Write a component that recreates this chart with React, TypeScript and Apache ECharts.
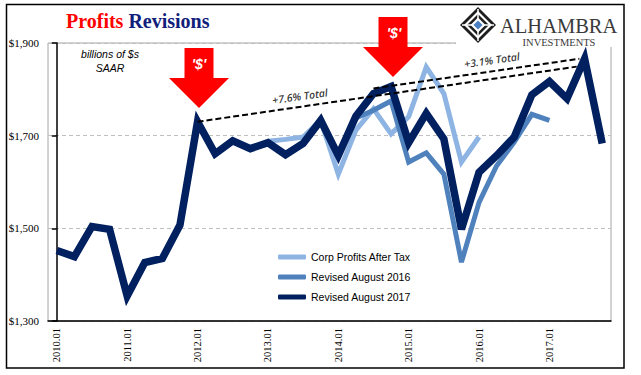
import React, { useEffect, useRef } from 'react';
import * as echarts from 'echarts';

const years = [2010, 2011, 2012, 2013, 2014, 2015, 2016, 2017];
const quarters = ['01', '02', '03', '04'];
const categories = years.flatMap((y) => quarters.map((q) => `${y}.${q}`));

const seriesNames = ['Corp Profits After Tax', 'Revised August 2016', 'Revised August 2017'];

const corpProfitsAfterTax = [
  null, null, null, null, null, null, null, null, null, null, null, null,
  1688, 1692, 1697, 1733, 1617, 1712, 1758, 1704, 1741, 1848, 1791, 1643, 1697,
  null, null, null, null, null, null, null,
];

const revisedAug2016 = [
  null, null, null, null, null, null, null, null, null, null, null, null,
  1685, 1659, 1683, 1733, 1657, 1738, 1755, 1775, 1643, 1663, 1617, 1427, 1556,
  1635, 1686, 1746, 1733, null, null, null,
];

const revisedAug2017 = [
  1452, 1439, 1504, 1498, 1354, 1426, 1435, 1507,
  1730, 1661, 1689, 1672, 1685, 1659, 1683, 1733,
  1657, 1742, 1791, 1806, 1685, 1748, 1693, 1498,
  1621, 1657, 1697, 1788, 1817, 1780, 1866, 1683,
];

const yTicks = [1300, 1500, 1700, 1900];

// trend annotations: [category position, value]
const trend76 = [[8, 1730], [29.55, 1849]];
const trend31 = [[18, 1802], [29.7, 1866]];
const trendLabels = ['+7.6% Total', '+3.1% Total'];
const trendLabelPos = [[13.82, 1785], [24.73, 1863]];

const colors = ['#8db4e2', '#4f81bd', '#002060'];

export default function App() {
  const ref = useRef<HTMLDivElement>(null);
  useEffect(() => {
    if (!ref.current) return;
    const chart = echarts.init(ref.current, undefined, { renderer: 'svg' });
    const arrow = (cx: number, top: number) => [
      [cx - 14.5, top], [cx + 14.5, top], [cx + 14.5, top + 30], [cx + 30, top + 30],
      [cx, top + 60], [cx - 30, top + 30], [cx - 14.5, top + 30],
    ];
    const lx = 478, ly = 25;
    const diamond = (h: number) => [[lx, ly - h], [lx + h, ly], [lx, ly + h], [lx - h, ly]];
    const option: any = {
      animation: false,
      backgroundColor: '#ffffff',
      title: {
        text: '{a|Profits} {b|Revisions}',
        left: 66,
        top: 11,
        padding: 0,
        textStyle: {
          rich: {
            a: { fontFamily: 'Liberation Serif', fontSize: 20, fontWeight: 'bold', color: '#ff0000' },
            b: { fontFamily: 'Liberation Serif', fontSize: 20, color: '#10207a' },
          },
        },
      },
      grid: { left: 48, right: 30, top: 43, bottom: 54, show: true, borderColor: '#a6a6a6', borderWidth: 1 },
      legend: {
        data: seriesNames,
        orient: 'vertical',
        left: 273,
        top: 246,
        itemWidth: 28,
        itemHeight: 5,
        itemGap: 8,
        icon: 'roundRect',
        selectedMode: false,
        textStyle: { fontFamily: 'Liberation Sans', fontSize: 10.5, color: '#000', lineHeight: 12 },
      },
      xAxis: [
        {
          type: 'category',
          data: categories,
          boundaryGap: true,
          axisLine: { lineStyle: { color: '#000', width: 1.5 } },
          axisTick: { interval: 3, length: 5, lineStyle: { color: '#000', width: 1.5 } },
          axisLabel: { interval: 3, rotate: 90, fontFamily: 'Liberation Serif', fontSize: 10.5, color: '#000', margin: 7 },
          splitLine: { show: false },
        },
        { type: 'value', min: -0.5, max: 31.5, show: false },
      ],
      yAxis: {
        type: 'value',
        min: yTicks[0],
        max: yTicks[yTicks.length - 1],
        interval: yTicks[1] - yTicks[0],
        axisLine: { show: true, lineStyle: { color: '#000', width: 1.5 } },
        axisTick: { show: true, length: 5, lineStyle: { color: '#000', width: 1.5 } },
        axisLabel: {
          formatter: (v: number) => '$' + v.toLocaleString('en-US'),
          fontFamily: 'Liberation Serif',
          fontSize: 11,
          color: '#000',
          margin: 9,
        },
        splitLine: { lineStyle: { color: '#bfbfbf', type: [4, 3], width: 1 } },
      },
      series: [
        {
          name: seriesNames[0], type: 'line', data: corpProfitsAfterTax, symbol: 'none', showSymbol: false,
          lineStyle: { color: colors[0], width: 5, join: 'miter' }, itemStyle: { color: colors[0] }, z: 2,
        },
        {
          name: seriesNames[1], type: 'line', data: revisedAug2016, symbol: 'none', showSymbol: false,
          lineStyle: { color: colors[1], width: 5, join: 'miter' }, itemStyle: { color: colors[1] }, z: 3,
        },
        {
          name: seriesNames[2], type: 'line', data: revisedAug2017, symbol: 'none', showSymbol: false,
          lineStyle: { color: colors[2], width: 7.5, join: 'miter' }, itemStyle: { color: colors[2] }, z: 4,
        },
        {
          name: 'trend', type: 'scatter', xAxisIndex: 1, yAxisIndex: 0,
          data: trendLabelPos, symbolSize: 1, itemStyle: { color: 'rgba(0,0,0,0)' }, z: 6,
          label: {
            show: true, position: 'inside', rotate: 8,
            formatter: (p: any) => trendLabels[p.dataIndex],
            fontFamily: 'Open Sans', fontStyle: 'italic', fontWeight: 600, fontSize: 10.5, color: '#000',
          },
          markLine: {
            silent: true,
            symbol: ['none', 'arrow'],
            symbolSize: [0, 8],
            label: { show: false },
            lineStyle: { color: '#000', type: [6, 3], width: 2 },
            data: [
              [{ coord: trend76[0] }, { coord: trend76[1] }],
              [{ coord: trend31[0] }, { coord: trend31[1] }],
            ],
          },
        },
      ],
      graphic: [
        { type: 'rect', z: 100, shape: { x: 456, y: 6, width: 166, height: 41 }, style: { fill: '#ffffff' } },
        { type: 'polygon', z: 101, shape: { points: diamond(18) }, style: { fill: '#1e1e1e' } },
        { type: 'polygon', z: 102, shape: { points: diamond(14) }, style: { fill: '#ffffff' } },
        { type: 'polygon', z: 103, shape: { points: diamond(11) }, style: { fill: '#1e1e1e' } },
        { type: 'polygon', z: 104, shape: { points: diamond(7.5) }, style: { fill: '#ffffff' } },
        { type: 'line', z: 104, shape: { x1: lx - 16, y1: ly, x2: lx + 16, y2: ly }, style: { stroke: '#ffffff', lineWidth: 1.5 } },
        { type: 'line', z: 104, shape: { x1: lx, y1: ly - 16, x2: lx, y2: ly + 16 }, style: { stroke: '#ffffff', lineWidth: 1.5 } },
        { type: 'polygon', z: 106, shape: { points: diamond(4.5) }, style: { fill: '#4a7fc1' } },
        {
          type: 'text', z: 101, x: 500, y: 26,
          style: { text: 'ALHAMBRA', fontFamily: 'Liberation Serif', fontSize: 20.5, fill: '#3a3a3a', align: 'left', verticalAlign: 'middle' },
        },
        {
          type: 'text', z: 101, x: 559, y: 42,
          style: { text: 'INVESTMENTS', fontFamily: 'Liberation Serif', fontSize: 10.5, fill: '#3a3a3a', align: 'center', verticalAlign: 'middle' },
        },
        { type: 'polygon', z: 110, shape: { points: arrow(199, 48) }, style: { fill: '#ff0000' } },
        { type: 'polygon', z: 110, shape: { points: arrow(393, 17) }, style: { fill: '#ff0000' } },
        {
          type: 'text', z: 111, x: 199, y: 64,
          style: { text: "'$'", fontFamily: 'Liberation Sans', fontStyle: 'italic', fontWeight: 'bold', fontSize: 14, fill: '#ffffff', align: 'center', verticalAlign: 'middle' },
        },
        {
          type: 'text', z: 111, x: 394, y: 33,
          style: { text: "'$'", fontFamily: 'Liberation Sans', fontStyle: 'italic', fontWeight: 'bold', fontSize: 14, fill: '#ffffff', align: 'center', verticalAlign: 'middle' },
        },
        {
          type: 'text', z: 111, x: 110, y: 54,
          style: { text: 'billions of $s', fontFamily: 'Liberation Sans', fontStyle: 'italic', fontSize: 10.5, fill: '#000', align: 'center', verticalAlign: 'middle' },
        },
        {
          type: 'text', z: 111, x: 110, y: 68,
          style: { text: 'SAAR', fontFamily: 'Liberation Sans', fontStyle: 'italic', fontSize: 10.5, fill: '#000', align: 'center', verticalAlign: 'middle' },
        },
        {
          type: 'rect', z: 120, shape: { x: 6.5, y: 4.5, width: 617.5, height: 363.5 },
          style: { fill: 'none', stroke: '#000', lineWidth: 1.5 },
        },
      ],
    };
    chart.setOption(option);
    return () => chart.dispose();
  }, []);
  return (
    <div style={{ position: 'absolute', left: 0, top: 0, width: 641, height: 375, background: '#fff' }}>
      <div ref={ref} style={{ width: 641, height: 375 }} />
    </div>
  );
}
